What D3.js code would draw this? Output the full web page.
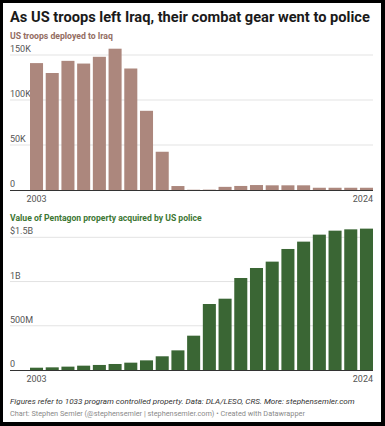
<!DOCTYPE html>
<html>
<head>
<meta charset="utf-8">
<script src="https://cdn.jsdelivr.net/npm/d3@7"></script>
<style>
  body { margin: 0; background: #000; }
  svg { display: block; font-family: Roboto, "Noto Sans", sans-serif; }
</style>
</head>
<body>
<div id="chart"></div>
<script>
var width = 385;
var height = 426;

var years = d3.range(2003, 2025);
var troops = [141000, 130000, 143500, 140500, 148000, 157000, 135000, 88000, 42500, 4400,
	300, 400, 3500, 4500, 5500, 5200, 5200, 5200, 2500, 2500, 2500, 2500];
var police = [26e6, 30e6, 38e6, 49e6, 57e6, 68e6, 83e6, 109e6, 155e6, 222e6, 388e6,
	746e6, 806e6, 1040e6, 1153e6, 1225e6, 1368e6, 1451e6, 1530e6, 1575e6, 1590e6, 1598e6];
var troopTicks = [0, 50000, 100000, 150000];
var troopLabels = ["0", "50K", "100K", "150K"];
var policeTicks = [0, 5e8, 1e9, 1.5e9];
var policeLabels = ["0", "500M", "1B", "$1.5B"];

var svg = d3.select("#chart")
	.append("svg")
	.attr("width", width)
	.attr("height", height);

// black frame round a white card
svg.append("rect").attr("width", width).attr("height", height).attr("fill", "#000");
svg.append("rect").attr("x", 3).attr("y", 3).attr("width", 378).attr("height", 419).attr("fill", "#fff");

// shrink/grow a text so it spans the same width as in the reference
function fit(sel, w) {
	var size = +sel.attr("font-size");
	var len = sel.node().getComputedTextLength();
	sel.attr("font-size", (size * w / len).toFixed(2));
	return sel;
}

fit(svg.append("text")
	.attr("x", 10).attr("y", 22)
	.attr("font-size", 15).attr("font-weight", 700).attr("fill", "#1a1a1a")
	.text("As US troops left Iraq, their combat gear went to police"), 360);

var xScale = d3.scaleBand().domain(years).range([30, 373]).paddingInner(0.17).paddingOuter(0);

function panel(opts) {
	var y = d3.scaleLinear().domain([0, opts.max]).range([opts.bottom, opts.top]);

	fit(svg.append("text")
		.attr("x", 10).attr("y", opts.titleY)
		.attr("font-size", 9).attr("font-weight", 700).attr("fill", opts.titleColor)
		.text(opts.title), opts.titleW);

	var grid = svg.append("g");
	grid.selectAll("line")
		.data(opts.ticks.slice(1))
		.enter()
		.append("line")
		.attr("x1", 10).attr("x2", 373)
		.attr("y1", function (d) { return y(d); })
		.attr("y2", function (d) { return y(d); })
		.attr("stroke", "#e3e3e3").attr("stroke-width", 1);

	grid.selectAll("text")
		.data(opts.ticks)
		.enter()
		.append("text")
		.attr("x", 10)
		.attr("y", function (d) { return y(d) - 3; })
		.attr("font-size", 9).attr("fill", "#555")
		.text(function (d, i) { return opts.labels[i]; });

	svg.append("g").selectAll("rect")
		.data(opts.values)
		.enter()
		.append("rect")
		.attr("x", function (d, i) { return xScale(years[i]); })
		.attr("width", xScale.bandwidth())
		.attr("y", function (d) { return y(d); })
		.attr("height", function (d) { return opts.bottom - y(d); })
		.attr("fill", opts.color);

	svg.append("line")
		.attr("x1", 10).attr("x2", 373)
		.attr("y1", opts.bottom + 0.5).attr("y2", opts.bottom + 0.5)
		.attr("stroke", "#333").attr("stroke-width", 1);

	svg.append("text")
		.attr("x", xScale(2003) + xScale.bandwidth() / 2)
		.attr("y", opts.bottom + 11.5)
		.attr("text-anchor", "middle")
		.attr("font-size", 9).attr("fill", "#555")
		.text("2003");
	svg.append("text")
		.attr("x", 373)
		.attr("y", opts.bottom + 11.5)
		.attr("text-anchor", "end")
		.attr("font-size", 9).attr("fill", "#555")
		.text("2024");
}

panel({
	title: "US troops deployed to Iraq", titleY: 39, titleW: 103, titleColor: "#936d62",
	values: troops, ticks: troopTicks, labels: troopLabels,
	max: 150000, top: 55, bottom: 190, color: "#ac877d"
});

panel({
	title: "Value of Pentagon property acquired by US police", titleY: 221, titleW: 192, titleColor: "#3d7734",
	values: police, ticks: policeTicks, labels: policeLabels,
	max: 1.5e9, top: 237.3, bottom: 370, color: "#3a6634"
});

fit(svg.append("text")
	.attr("x", 10).attr("y", 404)
	.attr("font-size", 8.6).attr("font-style", "italic").attr("fill", "#333")
	.text("Figures refer to 1033 program controlled property. Data: DLA/LESO, CRS. More: stephensemler.com"), 345);

fit(svg.append("text")
	.attr("x", 10).attr("y", 415.5)
	.attr("font-size", 7.6).attr("fill", "#8a8a8a")
	.text("Chart: Stephen Semler (@stephensemler | stephensemler.com) \u2022 Created with Datawrapper"), 295);
</script>
</body>
</html>
